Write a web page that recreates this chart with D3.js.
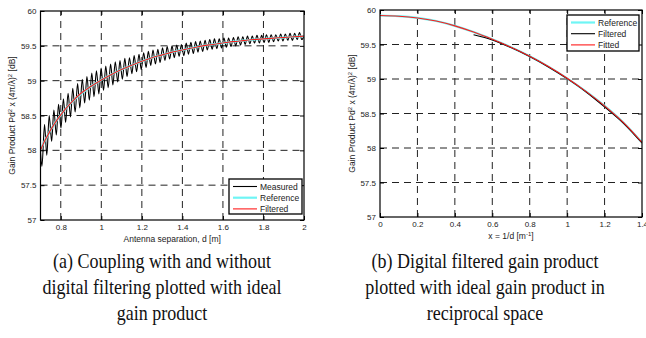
<!DOCTYPE html>
<html>
  <head>
    <meta charset="utf-8">
    <style>
      body { margin: 0; background: #fff; }
      svg text { font-family: "Liberation Sans", Arial, sans-serif; fill: #222; }
      .caption { font-family: "Liberation Serif", "Times New Roman", serif; fill: #111; }
    </style>
    <script src="https://d3js.org/d3.v7.min.js"></script>
  </head>
  <body>
    <svg></svg>
    <script>
    // ---- data ----
    // (a) measured coupling, extrema of the ripple
    var measuredD = [
      0.700, 0.707, 0.720, 0.731, 0.743, 0.755, 0.766, 0.778, 0.789, 0.801,
      0.813, 0.824, 0.836, 0.848, 0.859, 0.871, 0.883, 0.894, 0.906, 0.918,
      0.929, 0.941, 0.953, 0.964, 0.976, 0.988, 0.999, 1.011, 1.022, 1.034,
      1.046, 1.057, 1.069, 1.081, 1.092, 1.104, 1.116, 1.127, 1.139, 1.151,
      1.162, 1.174, 1.186, 1.197, 1.209, 1.221, 1.232, 1.244, 1.255, 1.267,
      1.279, 1.290, 1.302, 1.314, 1.325, 1.337, 1.349, 1.360, 1.372, 1.384,
      1.395, 1.407, 1.419, 1.430, 1.442, 1.454, 1.465, 1.477, 1.488, 1.500,
      1.512, 1.523, 1.535, 1.547, 1.558, 1.570, 1.582, 1.593, 1.605, 1.617,
      1.628, 1.640, 1.652, 1.663, 1.675, 1.687, 1.698, 1.710, 1.721, 1.733,
      1.745, 1.756, 1.768, 1.780, 1.791, 1.803, 1.815, 1.826, 1.838, 1.850,
      1.861, 1.873, 1.885, 1.896, 1.908, 1.920, 1.931, 1.943, 1.954, 1.966,
      1.978, 1.989, 2.000];
    var measuredGain = [
      57.98, 57.77, 58.37, 57.93, 58.50, 58.13, 58.58, 58.22, 58.66, 58.32,
      58.74, 58.40, 58.82, 58.48, 58.89, 58.55, 58.96, 58.61, 59.02, 58.68,
      59.06, 58.72, 59.11, 58.77, 59.14, 58.81, 59.18, 58.86, 59.21, 58.90,
      59.24, 58.94, 59.27, 58.98, 59.29, 59.02, 59.32, 59.06, 59.33, 59.10,
      59.36, 59.13, 59.38, 59.16, 59.40, 59.19, 59.42, 59.22, 59.44, 59.24,
      59.45, 59.26, 59.47, 59.29, 59.49, 59.31, 59.50, 59.33, 59.51, 59.35,
      59.52, 59.36, 59.54, 59.38, 59.55, 59.39, 59.56, 59.41, 59.57, 59.42,
      59.58, 59.44, 59.59, 59.45, 59.60, 59.46, 59.60, 59.47, 59.61, 59.48,
      59.61, 59.49, 59.62, 59.50, 59.63, 59.51, 59.63, 59.52, 59.64, 59.53,
      59.64, 59.54, 59.65, 59.54, 59.65, 59.55, 59.66, 59.55, 59.66, 59.56,
      59.66, 59.57, 59.67, 59.57, 59.67, 59.58, 59.68, 59.58, 59.68, 59.59,
      59.69, 59.59, 59.64];

    // (a) filtered and reference (ideal) gain product
    var filteredD = [0.70, 0.72, 0.74, 0.76, 0.78, 0.80, 0.85, 0.90, 0.95, 1.00,
                     1.05, 1.10, 1.15, 1.20, 1.25, 1.30, 1.35, 1.40, 1.45, 1.50,
                     1.55, 1.60, 1.65, 1.70, 1.75, 1.80, 1.85, 1.90, 1.95, 2.00];
    var filteredGain = [58.00, 58.13, 58.24, 58.34, 58.43, 58.51, 58.68, 58.82, 58.92, 59.01,
                        59.09, 59.16, 59.22, 59.28, 59.33, 59.37, 59.41, 59.44, 59.47, 59.50,
                        59.52, 59.54, 59.56, 59.575, 59.59, 59.60, 59.61, 59.62, 59.63, 59.64];
    var referenceGain = [58.01, 58.13, 58.24, 58.34, 58.43, 58.51, 58.68, 58.81, 58.92, 59.01,
                         59.09, 59.16, 59.22, 59.28, 59.33, 59.37, 59.41, 59.44, 59.47, 59.50,
                         59.52, 59.54, 59.56, 59.575, 59.59, 59.60, 59.61, 59.62, 59.63, 59.64];

    // (b) reciprocal space, x = 1/d
    var invX = [0, 0.1, 0.2, 0.3, 0.4, 0.5, 0.6, 0.7, 0.8, 0.9, 1.0, 1.1, 1.2, 1.3, 1.4];
    var idealGainInv = [59.92, 59.91, 59.885, 59.84, 59.77, 59.68, 59.575, 59.46, 59.33, 59.18,
                        59.01, 58.82, 58.61, 58.37, 58.08];
    var fittedGainInv = [59.92, 59.91, 59.885, 59.84, 59.77, 59.68, 59.575, 59.46, 59.33, 59.18,
                         59.01, 58.82, 58.61, 58.37, 58.08];
    var filteredInvX = [0.5, 0.6, 0.7, 0.8, 0.9, 1.0, 1.1, 1.2, 1.3, 1.4, 1.43];
    var filteredGainInv = [59.64, 59.565, 59.455, 59.325, 59.175, 59.005, 58.815, 58.595, 58.36, 58.075, 57.99];

    // ticks
    var yTicks = [57, 57.5, 58, 58.5, 59, 59.5, 60];
    var xTicksA = [0.8, 1, 1.2, 1.4, 1.6, 1.8, 2];
    var xTicksB = [0, 0.2, 0.4, 0.6, 0.8, 1, 1.2, 1.4];

    var captionA = ["(a) Coupling with and without", "digital filtering plotted with ideal", "gain product"];
    var captionB = ["(b) Digital filtered gain product", "plotted with ideal gain product in", "reciprocal space"];

    var width = 646, height = 338;
    var svg = d3.select("svg").attr("width", width).attr("height", height);

    function panel(opt) {
      var x = d3.scaleLinear().domain(opt.xDomain).range([opt.left, opt.right]);
      var y = d3.scaleLinear().domain([57, 60]).range([opt.bottom, opt.top]);
      var g = svg.append("g");

      g.append("clipPath").attr("id", opt.id + "-clip")
        .append("rect")
          .attr("x", opt.left).attr("y", opt.top)
          .attr("width", opt.right - opt.left).attr("height", opt.bottom - opt.top);

      // dashed grid
      g.selectAll(".vgrid")
        .data(opt.xTicks.filter(function(d) { return d > opt.xDomain[0] && d < opt.xDomain[1]; }))
        .enter().append("line")
          .attr("x1", function(d) { return x(d); }).attr("x2", function(d) { return x(d); })
          .attr("y1", opt.bottom).attr("y2", opt.top)
          .attr("stroke", "#222").attr("stroke-width", 1)
          .attr("stroke-dasharray", "7,5");
      g.selectAll(".hgrid")
        .data(yTicks.filter(function(d) { return d > 57 && d < 60; }))
        .enter().append("line")
          .attr("x1", opt.left).attr("x2", opt.right)
          .attr("y1", function(d) { return y(d); }).attr("y2", function(d) { return y(d); })
          .attr("stroke", "#222").attr("stroke-width", 1)
          .attr("stroke-dasharray", "7,5");

      // curves
      var lines = g.append("g").attr("clip-path", "url(#" + opt.id + "-clip)");
      opt.series.forEach(function(s) {
        var line = d3.line()
          .x(function(d, i) { return x(s.x[i]); })
          .y(function(d) { return y(d); })
          .curve(d3.curveMonotoneX);
        lines.append("path")
          .attr("d", line(s.y))
          .attr("fill", "none")
          .attr("stroke", s.color)
          .attr("stroke-width", s.width);
      });

      // axes with inward ticks
      g.append("g").attr("transform", "translate(0," + opt.bottom + ")")
        .call(d3.axisBottom(x).tickValues(opt.xTicks).tickSize(-4).tickPadding(4)
              .tickFormat(function(d) { return String(+d.toFixed(1)); }));
      g.append("g").attr("transform", "translate(" + opt.left + ",0)")
        .call(d3.axisLeft(y).tickValues(yTicks).tickSize(-4).tickPadding(4)
              .tickFormat(function(d) { return String(d); }));
      g.append("g").attr("transform", "translate(0," + opt.top + ")")
        .call(d3.axisTop(x).tickValues(opt.xTicks).tickSize(-4).tickFormat(""));
      g.append("g").attr("transform", "translate(" + opt.right + ",0)")
        .call(d3.axisRight(y).tickValues(yTicks).tickSize(-4).tickFormat(""));
      g.selectAll(".domain").remove();
      g.selectAll(".tick line").attr("stroke", "#000");
      g.selectAll(".tick text").attr("font-size", 8).attr("fill", "#222")
        .style("font-family", "'Liberation Sans', Arial, sans-serif");

      g.append("rect")
        .attr("x", opt.left).attr("y", opt.top)
        .attr("width", opt.right - opt.left).attr("height", opt.bottom - opt.top)
        .attr("fill", "none").attr("stroke", "#000").attr("stroke-width", 1.2);

      // axis titles
      var xt = g.append("text")
        .attr("x", (opt.left + opt.right) / 2).attr("y", opt.bottom + 21.5)
        .attr("text-anchor", "middle").attr("font-size", 8.5);
      opt.xTitle(xt);

      var yt = g.append("text")
        .attr("transform", "translate(" + opt.yTitleX + "," + ((opt.top + opt.bottom) / 2) + ") rotate(-90)")
        .attr("text-anchor", "middle").attr("font-size", 8.5);
      yt.append("tspan").text("Gain Product Pd");
      yt.append("tspan").attr("dy", -3).attr("font-size", 6).text("2");
      yt.append("tspan").attr("dy", 3).text(" x (4\u03c0/\u03bb)");
      yt.append("tspan").attr("dy", -3).attr("font-size", 6).text("2");
      yt.append("tspan").attr("dy", 3).text(" [dB]");

      // legend
      var lg = g.append("g");
      lg.append("rect")
        .attr("x", opt.legend.x).attr("y", opt.legend.y)
        .attr("width", opt.legend.w).attr("height", opt.legend.h)
        .attr("fill", "#fff").attr("stroke", "#000").attr("stroke-width", 1.3);
      opt.series.slice().sort(function(a, b) { return a.order - b.order; }).forEach(function(s, i) {
        var yy = opt.legend.y + 7.5 + i * 11.2;
        lg.append("line")
          .attr("x1", opt.legend.x + 4).attr("x2", opt.legend.x + 28)
          .attr("y1", yy).attr("y2", yy)
          .attr("stroke", s.color).attr("stroke-width", s.width);
        lg.append("text")
          .attr("x", opt.legend.x + 31).attr("y", yy + 3)
          .attr("font-size", 8.5).text(s.name);
      });

      // caption (the source figure is slightly condensed horizontally)
      opt.caption.forEach(function(t, i) {
        svg.append("text").attr("class", "caption")
          .attr("transform", "translate(" + opt.captionX + "," + (268 + i * 26) + ") scale(0.9,1)")
          .attr("text-anchor", "middle").attr("font-size", 20)
          .text(t);
      });
    }

    panel({
      id: "a", left: 40.5, right: 304, top: 11, bottom: 220,
      xDomain: [0.7, 2], xTicks: xTicksA, yTitleX: 15,
      xTitle: function(t) { t.text("Antenna separation, d [m]"); },
      series: [
        {name: "Measured", x: measuredD, y: measuredGain, color: "#000", width: 1.1, order: 0},
        {name: "Reference", x: filteredD, y: referenceGain, color: "#6ff5f5", width: 2.2, order: 1},
        {name: "Filtered", x: filteredD, y: filteredGain, color: "#ff1a1a", width: 1.1, order: 2}
      ],
      legend: {x: 229, y: 179, w: 73, h: 35},
      caption: captionA, captionX: 162
    });

    panel({
      id: "b", left: 380, right: 642, top: 10, bottom: 217,
      xDomain: [0, 1.4], xTicks: xTicksB, yTitleX: 355,
      xTitle: function(t) {
        t.append("tspan").text("x = 1/d [m");
        t.append("tspan").attr("dy", -3).attr("font-size", 6).text("-1");
        t.append("tspan").attr("dy", 3).text("]");
      },
      series: [
        {name: "Reference", x: invX, y: idealGainInv, color: "#6ff5f5", width: 2.2, order: 0},
        {name: "Filtered", x: filteredInvX, y: filteredGainInv, color: "#000", width: 1.1, order: 1},
        {name: "Fitted", x: invX, y: fittedGainInv, color: "#ff1a1a", width: 1.1, order: 2}
      ],
      legend: {x: 567, y: 15, w: 72, h: 36},
      caption: captionB, captionX: 485
    });
    </script>
  </body>
</html>
